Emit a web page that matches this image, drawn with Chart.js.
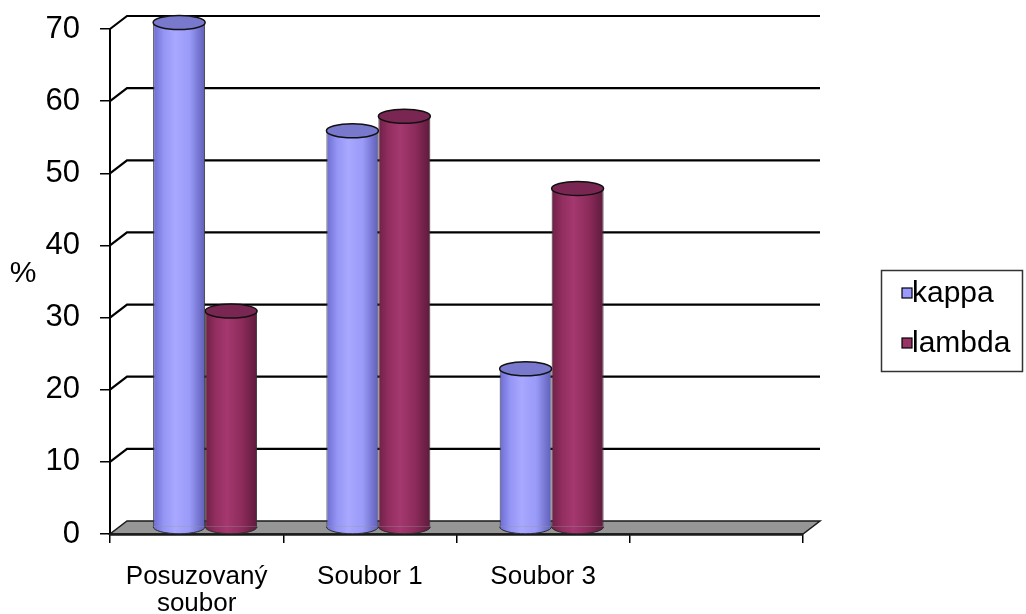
<!DOCTYPE html>
<html><head><meta charset="utf-8">
<script src="https://cdn.jsdelivr.net/npm/chart.js@4/dist/chart.umd.min.js"></script>
<style>html,body{margin:0;padding:0;background:#fff;} #wrap{width:1026px;height:614px;position:relative;}</style>
</head><body><div id="wrap"><canvas id="c" width="1026" height="614"></canvas></div>
<script>
const categories = [['Posuzovaný', 'soubor'], 'Soubor 1', 'Soubor 3', ''];
const seriesNames = ['kappa', 'lambda'];
const kappaValues = [70, 55, 22, null];
const lambdaValues = [30, 57, 47, null];
const yTicks = [0, 10, 20, 30, 40, 50, 60, 70];
const yAxisTitle = '%';

const FONT = '"Liberation Sans", Arial, sans-serif';
const DX = 17, DY = -13;      // back wall offset
const MX = 8.5, MY = -6.5;    // bar depth offset
const CAT_PCT = 0.6;

const styles = [
  { legend: '#9999FF', cap: '#7878cc', stops: ['#6c6cd0', '#9494f4', '#a8a8ff', '#9a9af8', '#5e5eb8'] },
  { legend: '#993366', cap: '#7a2652', stops: ['#6e2046', '#922e60', '#a4386f', '#8e2c5c', '#5e1a3c'] }
];

function cylGrad(c) {
  const st = styles[c.datasetIndex].stops;
  const chart = c.chart;
  const xs = chart.scales && chart.scales.x;
  if (!xs || c.dataIndex == null || !xs.width) return st[2];
  const catW = xs.width / categories.length;
  const bw = catW * CAT_PCT / 2;
  const cx = xs.getPixelForValue(c.dataIndex) + (c.datasetIndex - 0.5) * bw;
  const g = chart.ctx.createLinearGradient(cx - bw / 2, 0, cx + bw / 2, 0);
  g.addColorStop(0, st[0]); g.addColorStop(0.2, st[1]); g.addColorStop(0.42, st[2]);
  g.addColorStop(0.7, st[3]); g.addColorStop(1, st[4]);
  return g;
}

const threeD = {
  id: 'threeD',
  beforeDatasetsDraw(chart) {
    const { ctx, chartArea: a, scales: { y } } = chart;
    ctx.save();
    ctx.strokeStyle = '#000'; ctx.lineWidth = 2.2;
    yTicks.forEach(v => {
      if (v === 0) return;
      const py = y.getPixelForValue(v);
      ctx.beginPath();
      ctx.moveTo(a.left, py);
      ctx.lineTo(a.left + DX, py + DY);
      ctx.lineTo(a.right + DX, py + DY);
      ctx.stroke();
    });
    const y0 = y.getPixelForValue(0);
    ctx.beginPath();
    ctx.moveTo(a.left, y0); ctx.lineTo(a.right, y0);
    ctx.lineTo(a.right + DX, y0 + DY); ctx.lineTo(a.left + DX, y0 + DY); ctx.closePath();
    ctx.fillStyle = '#969696'; ctx.fill();
    ctx.lineWidth = 1.5; ctx.strokeStyle = '#1a1a1a'; ctx.stroke();
    ctx.beginPath(); ctx.moveTo(a.left, y0 + 0.5); ctx.lineTo(a.right, y0 + 0.5);
    ctx.lineWidth = 2.5; ctx.strokeStyle = '#1a1a1a'; ctx.stroke();
    ctx.restore();
    ctx.save();
    ctx.translate(MX, MY);
  },
  afterDatasetDraw(chart, args) {
    const ctx = chart.ctx; const i = args.index; const meta = args.meta;
    const ds = chart.data.datasets[i];
    meta.data.forEach((bar, j) => {
      if (ds.data[j] == null) return;
      const p = bar.getProps(['x', 'y', 'base', 'width'], true);
      const rx = p.width / 2, ry = 7;
      ctx.save();
      ctx.beginPath();
      ctx.ellipse(p.x, p.base, rx, ry, 0, 0, Math.PI);
      ctx.fillStyle = bar.options.backgroundColor; ctx.fill();
      ctx.lineWidth = 1; ctx.strokeStyle = '#2a2a2a'; ctx.stroke();
      ctx.beginPath();
      ctx.ellipse(p.x, p.y, rx, ry, 0, 0, Math.PI * 2);
      ctx.fillStyle = styles[i].cap; ctx.fill();
      ctx.lineWidth = 1.5; ctx.strokeStyle = '#111'; ctx.stroke();
      ctx.restore();
    });
  },
  afterDatasetsDraw(chart) {
    chart.ctx.restore();
  },
  afterDraw(chart) {
    const ctx = chart.ctx;
    ctx.save();
    ctx.fillStyle = '#000';
    ctx.font = '30px ' + FONT;
    ctx.textAlign = 'center'; ctx.textBaseline = 'middle';
    ctx.fillText(yAxisTitle, 23, 274);
    ctx.strokeStyle = '#333'; ctx.lineWidth = 1.5;
    ctx.strokeRect(881.5, 270.5, 141, 101);
    ctx.textAlign = 'left';
    ctx.font = '30px ' + FONT;
    seriesNames.forEach((n, k) => {
      const cy = 293 + k * 50;
      ctx.fillStyle = styles[k].legend;
      ctx.fillRect(902, cy - 5, 10, 10);
      ctx.lineWidth = 1.2; ctx.strokeStyle = '#000';
      ctx.strokeRect(902, cy - 5, 10, 10);
      ctx.fillStyle = '#000';
      ctx.fillText(n, 912, cy + 1);
    });
    ctx.restore();
  }
};

const bw = { left: 1, right: 1, top: 0, bottom: 0 };
new Chart(document.getElementById('c'), {
  type: 'bar',
  data: {
    labels: categories,
    datasets: [
      { label: seriesNames[0], data: kappaValues, backgroundColor: cylGrad, borderColor: '#333', borderWidth: bw, borderSkipped: false, clip: false },
      { label: seriesNames[1], data: lambdaValues, backgroundColor: cylGrad, borderColor: '#333', borderWidth: bw, borderSkipped: false, clip: false }
    ]
  },
  options: {
    responsive: false,
    animation: false,
    devicePixelRatio: 1,
    layout: { padding: { top: 29, right: 223, left: 0, bottom: 0 } },
    datasets: { bar: { categoryPercentage: CAT_PCT, barPercentage: 1.0 } },
    plugins: { legend: { display: false }, tooltip: { enabled: false } },
    scales: {
      x: {
        offset: true,
        grid: { offset: true, drawOnChartArea: false, drawTicks: true, tickLength: 9, color: '#000', lineWidth: 1.5 },
        border: { display: true, color: '#000', width: 1.5 },
        ticks: { color: '#000', font: { family: FONT, size: 26, lineHeight: 1.05 }, padding: 20, maxRotation: 0, minRotation: 0, autoSkip: false },
        afterFit(s) { s.height = 80; s.paddingLeft = 0; s.paddingRight = 0; }
      },
      y: {
        min: 0, max: 70,
        afterBuildTicks(s) { s.ticks = yTicks.map(v => ({ value: v })); },
        grid: { drawOnChartArea: false, drawTicks: true, tickLength: 10, color: '#000', lineWidth: 1.5 },
        border: { display: true, color: '#000', width: 2 },
        ticks: { color: '#000', font: { family: FONT, size: 31, lineHeight: 0.6 }, padding: 20 },
        afterFit(s) { s.width = 110; s.paddingTop = 0; s.paddingBottom = 0; }
      }
    }
  },
  plugins: [threeD]
});
</script>
</body></html>
